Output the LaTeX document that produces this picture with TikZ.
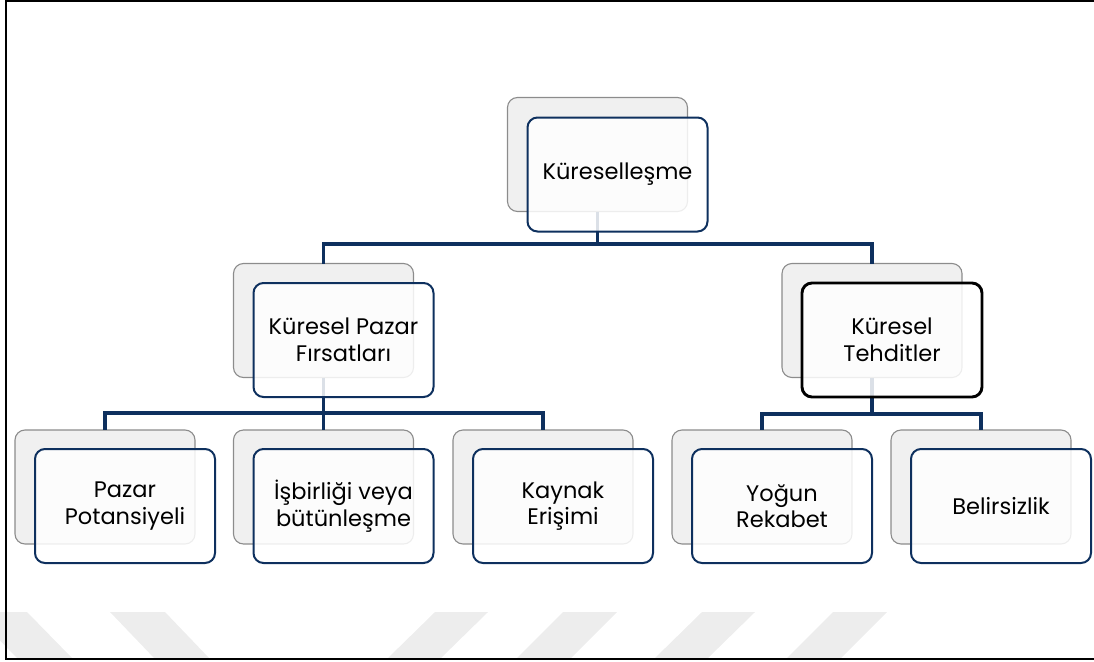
\documentclass[tikz,border=0pt]{standalone}
\usepackage{fontspec}
\setmainfont{Poppins}
\definecolor{navy}{RGB}{14,48,94}
\definecolor{backfill}{RGB}{240,240,240}
\definecolor{backline}{RGB}{140,140,140}
\definecolor{stripegray}{RGB}{237,237,237}
\begin{document}
\begin{tikzpicture}[x=1pt,y=-1pt,
  backbox/.style={draw=backline, fill=backfill, line width=1.1pt, rounded corners=10pt, minimum width=180pt, minimum height=114pt, inner sep=0pt, outer sep=0pt},
  frontbox/.style={draw=navy, fill=white, fill opacity=0.85, text opacity=1, line width=2pt, rounded corners=10pt, minimum width=180pt, minimum height=114pt, inner sep=0pt, align=center, font=\fontsize{22.5}{26.5}\selectfont, text=black},
  threatbox/.style={frontbox, draw=black, line width=2.9pt},
  conn/.style={draw=navy, line width=3.3pt},
  stripe/.style={fill=stripegray, draw=none}]
\useasboundingbox (0,0) rectangle (1094,661);
% watermark stripes
\fill[stripe] (-28,612) -- (27,612) -- (73,659) -- (18,659) -- cycle;
\fill[stripe] (110,612) -- (165,612) -- (210,659) -- (155,659) -- cycle;
\fill[stripe] (435,612) -- (488,612) -- (440,659) -- (387,659) -- cycle;
\fill[stripe] (563,612) -- (617,612) -- (570,659) -- (516,659) -- cycle;
\fill[stripe] (702,612) -- (755,612) -- (707,659) -- (654,659) -- cycle;
\fill[stripe] (833,612) -- (887,612) -- (840,659) -- (786,659) -- cycle;
% frame
\begin{scope}
\clip (0,0) rectangle (1094,661);
\draw[line width=2pt] (6,1.5) rectangle (1110,659);
\end{scope}
% back boxes
\node[backbox] (b0) at (597.5,154.5) {};
\node[backbox] (b1) at (323.5,320.5) {};
\node[backbox] (b2) at (872,320.5) {};
\node[backbox] (c1) at (105,487) {};
\node[backbox] (c2) at (323.5,487) {};
\node[backbox] (c3) at (543,487) {};
\node[backbox] (c4) at (762,487) {};
\node[backbox] (c5) at (981,487) {};
% bus coordinates
\coordinate (bus0) at (0,244);
\coordinate (busL) at (0,413);
\coordinate (busR) at (0,414);
% connectors
\draw[conn] (b0.south) -- (b0.south |- bus0) -| (b1.north);
\draw[conn] (b0.south |- bus0) -| (b2.north);
\draw[conn] (b1.south) -- (b1.south |- busL) -| (c1.north);
\draw[conn] (b1.south |- busL) -- (c2.north);
\draw[conn] (b1.south |- busL) -| (c3.north);
\draw[conn] (b2.south) -- (b2.south |- busR) -| (c4.north);
\draw[conn] (b2.south |- busR) -| (c5.north);
% front boxes
\node[frontbox] (f0) at (617.5,174.5) {Küreselleşme};
\node[frontbox] (f1) at (343.5,340) {Küresel Pazar\\Fırsatları};
\node[threatbox] (f2) at (892,340) {Küresel\\Tehditler};
\node[frontbox] (g1) at (125,506) {Pazar\\Potansiyeli};
\node[frontbox] (g2) at (343.5,506) {İşbirliği veya\\bütünleşme};
\node[frontbox] (g3) at (563,506) {Kaynak\\Erişimi};
\node[frontbox] (g4) at (782,506) {Yoğun\\Rekabet};
\node[frontbox] (g5) at (1001,506) {Belirsizlik};
\end{tikzpicture}
\end{document}
